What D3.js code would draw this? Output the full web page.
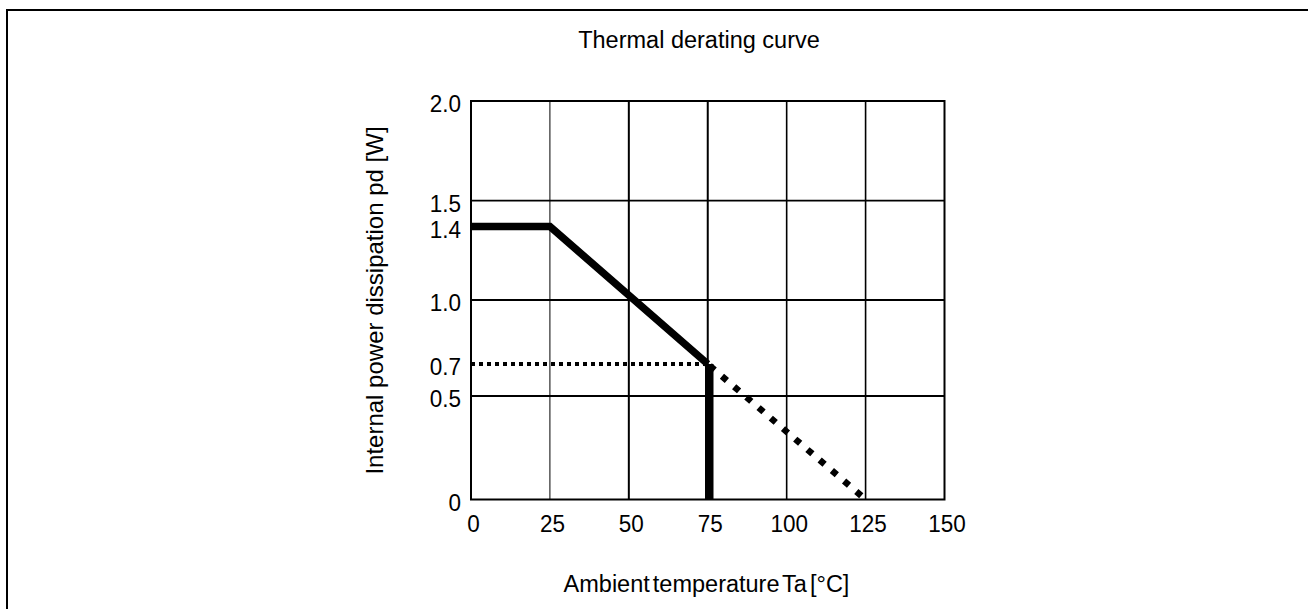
<!DOCTYPE html>
<html>
<head>
<meta charset="utf-8">
<script src="https://cdn.jsdelivr.net/npm/d3@7"></script>
<style>
  html, body { margin: 0; padding: 0; background: #fff; }
  svg { display: block; }
  text { font-family: "Liberation Sans", Arial, Helvetica, sans-serif; fill: #000; }
</style>
</head>
<body>
<svg id="chart" width="1308" height="609"></svg>
<script>
// ---- data ----
const title = "Thermal derating curve";
const xLabel = "Ambient temperature Ta [°C]";
const yLabel = "Internal power dissipation pd [W]";
const xTicks = [0, 25, 50, 75, 100, 125, 150];
const yTicks = [0, 0.5, 0.7, 1.0, 1.4, 1.5, 2.0];
const yTickLabels = ["0", "0.5", "0.7", "1.0", "1.4", "1.5", "2.0"];
const gridX = [25, 50, 75, 100, 125];
const gridY = [0.5, 1.0, 1.5];
const deratingTemp = [0, 25, 75];
const deratingPower = [1.4, 1.4, 0.7];
const cutoffTemp = [75, 75];
const cutoffPower = [0.7, 0];
const extensionTemp = [75, 125];
const extensionPower = [0.7, 0];
const refTemp = [0, 75];
const refPower = [0.7, 0.7];

// ---- layout ----
const svg = d3.select("#chart");
const pLeft = 471, pRight = 944.5, pTop = 101, pBottom = 499.5;

const x = d3.scaleLinear().domain([0, 150]).range([pLeft, pRight]);
// the reference axis is not perfectly uniform; map its labelled values to where they sit
const y = d3.scaleLinear()
  .domain([0, 0.5, 0.7, 1.0, 1.4, 1.5, 2.0])
  .range([pBottom, 396, 364, 300, 226.5, 200.7, pTop]);

// page frame (top and left edges)
svg.append("path")
  .attr("d", "M7,609 L7,10 L1308,10")
  .attr("fill", "none").attr("stroke", "#000").attr("stroke-width", 2);

// title
svg.append("text")
  .attr("x", 699).attr("y", 48)
  .attr("text-anchor", "middle")
  .style("font-size", "23.5px")
  .text(title);

// grid
const g = svg.append("g");
g.selectAll("line.gx").data(gridX).join("line")
  .attr("class", "gx")
  .attr("x1", d => x(d)).attr("x2", d => x(d))
  .attr("y1", pTop).attr("y2", pBottom)
  .attr("stroke", "#000")
  .attr("stroke-width", d => d === 25 ? 1 : (d === 50 || d === 75 ? 2 : 1.6));
g.selectAll("line.gy").data(gridY).join("line")
  .attr("class", "gy")
  .attr("x1", pLeft).attr("x2", pRight)
  .attr("y1", d => y(d)).attr("y2", d => y(d))
  .attr("stroke", "#000").attr("stroke-width", 1.8);

// plot frame
g.append("rect")
  .attr("x", pLeft).attr("y", pTop)
  .attr("width", pRight - pLeft).attr("height", pBottom - pTop)
  .attr("fill", "none").attr("stroke", "#000").attr("stroke-width", 2);

// tick labels (slightly taller glyphs, as in the reference)
const yAxis = d3.axisLeft(y).tickValues(yTicks)
  .tickFormat((d, i) => yTickLabels[i]).tickSize(0).tickPadding(10);
const ya = svg.append("g").attr("transform", `translate(${pLeft},0)`).call(yAxis);
ya.select(".domain").remove();
ya.selectAll("text")
  .attr("dy", null).attr("y", 10).attr("transform", "scale(1,1.08)")
  .style("font-size", "22.5px")
  .style("font-family", '"Liberation Sans", Arial, sans-serif');

const xAxis = d3.axisBottom(x).tickValues(xTicks).tickFormat(d3.format("d")).tickSize(0).tickPadding(0);
const xa = svg.append("g").attr("transform", `translate(0,${pBottom})`).call(xAxis);
xa.select(".domain").remove();
xa.selectAll("text")
  .attr("dy", null).attr("y", 30).attr("x", 2).attr("transform", "scale(1,1.08)")
  .style("font-size", "22.5px")
  .style("font-family", '"Liberation Sans", Arial, sans-serif');

// axis titles
svg.append("text")
  .attr("x", 706.5).attr("y", 591.5)
  .attr("text-anchor", "middle")
  .style("font-size", "23.5px")
  .style("word-spacing", "-3.5px")
  .text(xLabel);

svg.append("text")
  .attr("transform", "translate(383,300.5) rotate(-90)")
  .attr("text-anchor", "middle")
  .style("font-size", "24px")
  .text(yLabel);

// curves
const line = d3.line().x(d => x(d[0])).y(d => y(d[1]));
const zip = (a, b) => a.map((v, i) => [v, b[i]]);

svg.append("path")
  .datum(zip(refTemp, refPower))
  .attr("d", line)
  .attr("fill", "none").attr("stroke", "#000")
  .attr("stroke-width", 4).attr("stroke-dasharray", "4,4");

svg.append("path")
  .datum(zip(extensionTemp, extensionPower))
  .attr("d", line)
  .attr("fill", "none").attr("stroke", "#000")
  .attr("stroke-width", 6.5).attr("stroke-dasharray", "6.5,9.6")
  .attr("stroke-dashoffset", 13.5);

svg.append("path")
  .datum(zip(deratingTemp, deratingPower))
  .attr("d", line)
  .attr("fill", "none").attr("stroke", "#000")
  .attr("stroke-width", 7.5).attr("stroke-linejoin", "miter");

svg.append("path")
  .datum(zip(cutoffTemp, cutoffPower))
  .attr("d", line)
  .attr("transform", "translate(1.5,0)")
  .attr("fill", "none").attr("stroke", "#000")
  .attr("stroke-width", 8.5);
</script>
</body>
</html>
